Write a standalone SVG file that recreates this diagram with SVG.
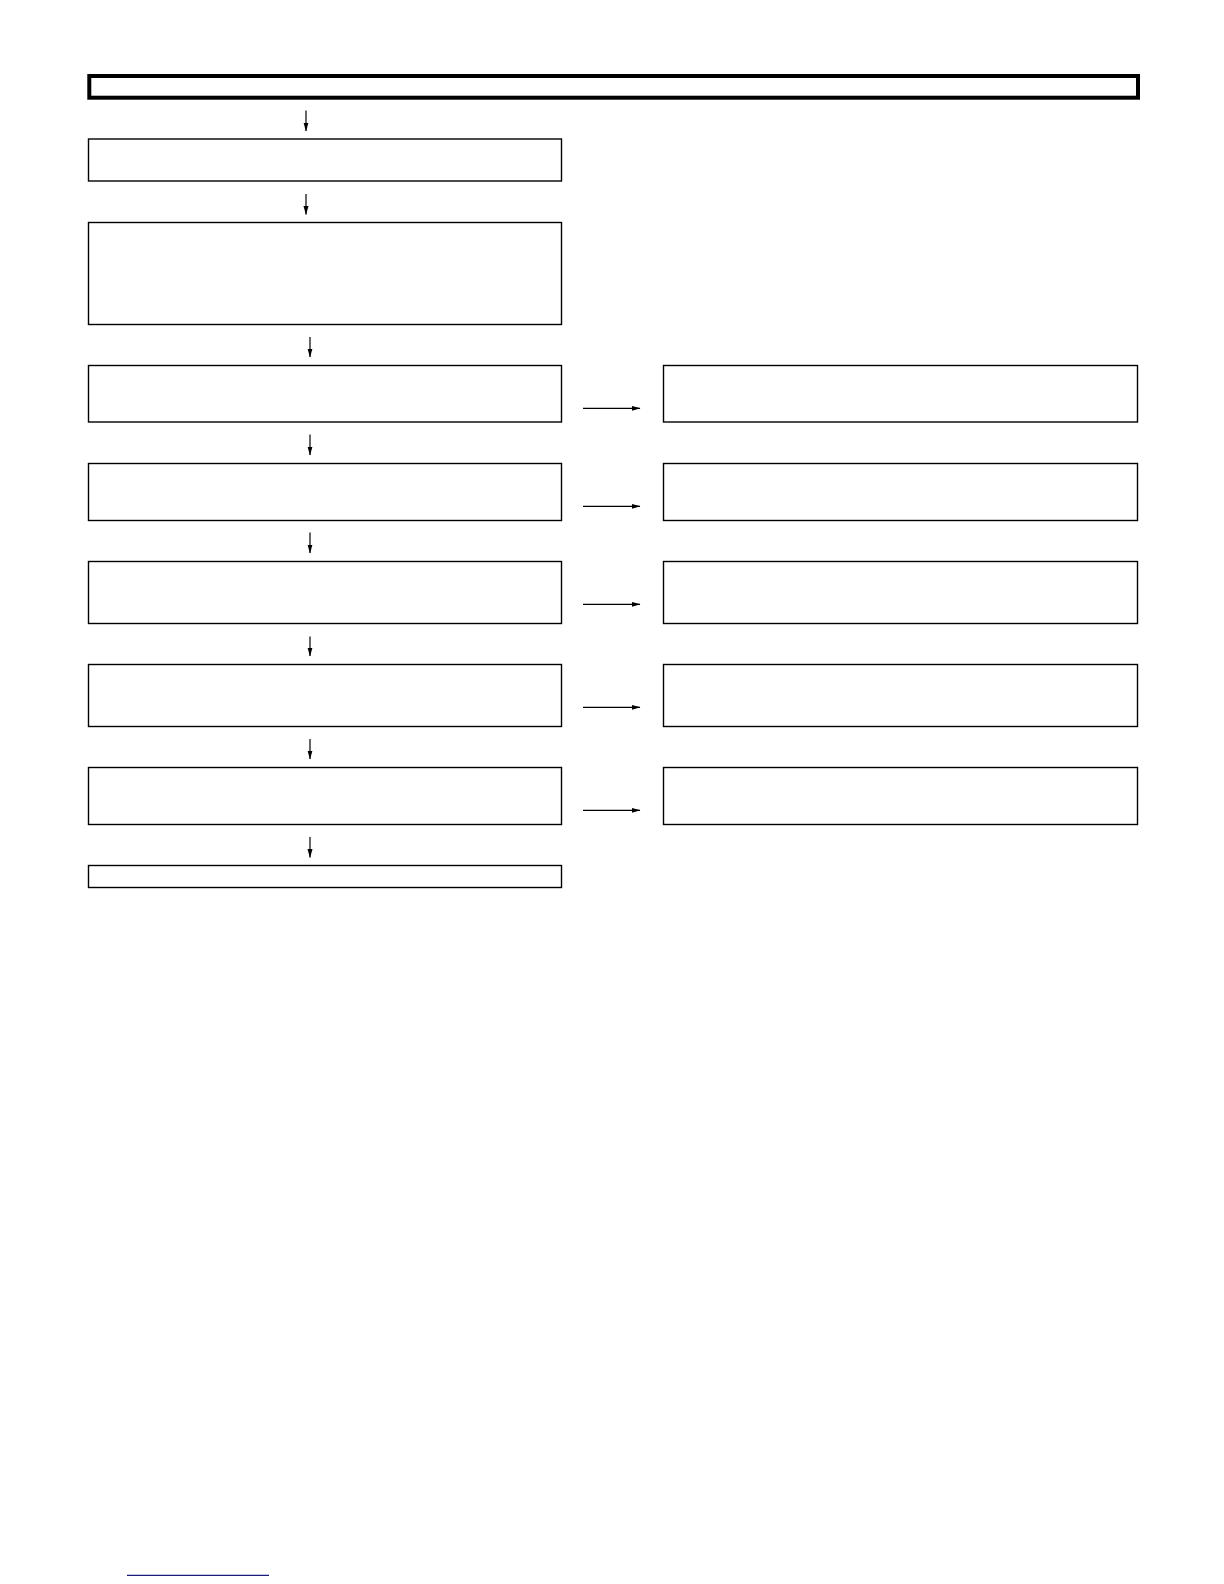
<svg xmlns="http://www.w3.org/2000/svg" width="1224" height="1584" viewBox="0 0 1224 1584">
<style>
.box{fill:#fff;stroke:#000;stroke-width:1.4}
.conn{stroke:#000;stroke-width:1.2;fill:none}
</style>
<defs>
<marker id="ah" markerWidth="9" markerHeight="6" refX="8.5" refY="3" orient="auto" markerUnits="userSpaceOnUse">
<path d="M0,0.5 L9,3 L0,5.5 Z" fill="#000"/>
</marker>
</defs>
<rect width="1224" height="1584" fill="#fff"/>
<g id="title"><rect x="89.3" y="76" width="1048.7" height="21.7" fill="#fff" stroke="#000" stroke-width="4"/></g>
<g id="n1"><rect class="box" x="88.5" y="139" width="473" height="42"/></g>
<g id="n2"><rect class="box" x="88.5" y="222.5" width="473" height="102"/></g>
<g id="n3"><rect class="box" x="88.5" y="365.5" width="473" height="56.5"/></g>
<g id="n3r"><rect class="box" x="663.5" y="365.5" width="474" height="56.5"/></g>
<g id="n4"><rect class="box" x="88.5" y="463.5" width="473" height="57"/></g>
<g id="n4r"><rect class="box" x="663.5" y="463.5" width="474" height="57"/></g>
<g id="n5"><rect class="box" x="88.5" y="561.5" width="473" height="62"/></g>
<g id="n5r"><rect class="box" x="663.5" y="561.5" width="474" height="62"/></g>
<g id="n6"><rect class="box" x="88.5" y="664.5" width="473" height="62"/></g>
<g id="n6r"><rect class="box" x="663.5" y="664.5" width="474" height="62"/></g>
<g id="n7"><rect class="box" x="88.5" y="767.5" width="473" height="57"/></g>
<g id="n7r"><rect class="box" x="663.5" y="767.5" width="474" height="57"/></g>
<g id="n8"><rect class="box" x="88.5" y="865.5" width="473" height="22"/></g>
<g id="connectors">
<line class="conn" x1="306" y1="110.5" x2="306" y2="131" marker-end="url(#ah)"/>
<line class="conn" x1="306" y1="194" x2="306" y2="214.5" marker-end="url(#ah)"/>
<line class="conn" x1="310" y1="337" x2="310" y2="357" marker-end="url(#ah)"/>
<line class="conn" x1="310" y1="434.5" x2="310" y2="455" marker-end="url(#ah)"/>
<line class="conn" x1="310" y1="532.5" x2="310" y2="553" marker-end="url(#ah)"/>
<line class="conn" x1="310" y1="636.5" x2="310" y2="656" marker-end="url(#ah)"/>
<line class="conn" x1="310" y1="739" x2="310" y2="759" marker-end="url(#ah)"/>
<line class="conn" x1="310" y1="837" x2="310" y2="857.5" marker-end="url(#ah)"/>
<line class="conn" x1="583" y1="408.3" x2="640" y2="408.3" marker-end="url(#ah)"/>
<line class="conn" x1="583" y1="506.3" x2="640" y2="506.3" marker-end="url(#ah)"/>
<line class="conn" x1="583" y1="604.3" x2="640" y2="604.3" marker-end="url(#ah)"/>
<line class="conn" x1="583" y1="707.3" x2="640" y2="707.3" marker-end="url(#ah)"/>
<line class="conn" x1="583" y1="810.3" x2="640" y2="810.3" marker-end="url(#ah)"/>
</g>
<line x1="127" y1="1575.3" x2="269" y2="1575.3" stroke="#1a1a7a" stroke-width="1.3"/>
</svg>
